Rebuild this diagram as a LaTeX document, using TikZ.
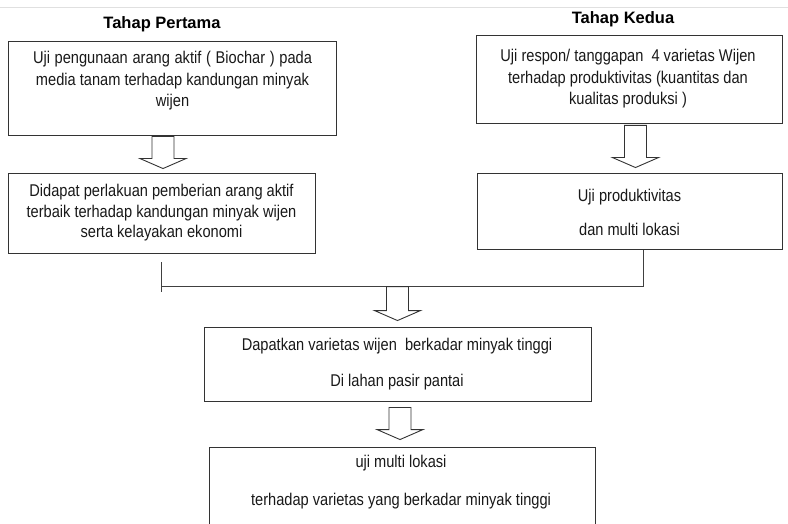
\documentclass[tikz,border=0pt]{standalone}
\usepackage{fontspec}
\setmainfont{Liberation Sans}
\newfontfamily\bodyfont[FakeStretch=0.86]{Liberation Sans}
\usetikzlibrary{calc}
\tikzset{
  box/.style={draw=black!80, line width=0.9pt, fill=white, inner sep=0pt},
  txt/.style={align=center, inner sep=0pt, font=\bodyfont\fontsize{17}{21.5}\selectfont, text=black!90},
  ttl/.style={inner sep=0pt, font=\bfseries\fontsize{16.5}{19}\selectfont},
  barrow/.style={draw=black!80, line width=0.9pt, fill=white, line join=miter},
  link/.style={draw=black!75, line width=0.9pt}
}
\newcommand\blockarrow[2]{%
  \path[barrow] let \p1=(#1), \p2=(#2) in
    (\x1-11pt,\y1) -- (\x1+11pt,\y1) -- (\x1+11pt,\y2+10pt) -- (\x1+23pt,\y2+10pt)
    -- (\x1,\y2) -- (\x1-23pt,\y2+10pt) -- (\x1-11pt,\y2+10pt) -- cycle;}
\begin{document}
\begin{tikzpicture}[x=1pt,y=-1pt]
\clip (0,0) rectangle (788,524);
\fill[white] (0,0) rectangle (788,524);
\draw[black!12, line width=1pt] (0,8) -- (788,8);

\node[ttl] (h1) at (162,24) {Tahap Pertama};
\node[ttl] (h2) at (623,19) {Tahap Kedua};

\node[box, minimum width=328pt, minimum height=94pt] (b1) at (172,88) {};
\node[txt] (t1) at (172.5,81) {\makebox[279pt][s]{Uji pengunaan arang aktif ( Biochar ) pada}\\
  \makebox[273pt][s]{media tanam terhadap kandungan minyak}\\ wijen};

\node[box, minimum width=307pt, minimum height=80pt] (b2) at (161.5,213) {};
\node[txt, font=\bodyfont\fontsize{17}{20.5}\selectfont] (t2) at (161.5,213) {Didapat perlakuan pemberian arang aktif\\
  terbaik terhadap kandungan minyak wijen\\ serta kelayakan ekonomi};

\node[box, minimum width=306pt, minimum height=88pt] (b3) at (629,79) {};
\node[txt] (t3) at (628,79) {Uji respon/ tanggapan\ \ 4 varietas Wijen\\
  terhadap produktivitas (kuantitas dan\\ kualitas produksi )};

\node[box, minimum width=305pt, minimum height=76pt] (b4) at (629.5,211) {};
\node[txt] (t4) at (629.5,212.5) {Uji produktivitas\\[13pt] dan multi lokasi};

\node[box, minimum width=387pt, minimum height=74pt] (b5) at (397.5,364) {};
\node[txt] (t5) at (397,364) {Dapatkan varietas wijen\ \ berkadar minyak tinggi\\[14pt] Di lahan pasir pantai};

\node[box, minimum width=386pt, minimum height=93pt] (b6) at (402,493.5) {};
\node[txt] (t6) at (401,482) {uji multi lokasi\\[16pt] terhadap varietas yang berkadar minyak tinggi};

% block arrows
\coordinate (a1t) at ($(b1.south)+(-9,1)$);
\coordinate (a1b) at ($(b2.north)+(0,-4)$);
\blockarrow{a1t}{a1b}
\coordinate (a2t) at ($(b3.south)+(6.5,2)$);
\coordinate (a2b) at ($(b4.north)+(0,-5)$);
\blockarrow{a2t}{a2b}

% joining bracket
\coordinate (jl) at ($(b2.south)+(0,9)$);
\coordinate (jr) at ($(b4.south)+(13.5,1)$);
\draw[link] (jl) -- ++(0,30);
\draw[link] (jr) -- ++(0,37);
\draw[link] ($(jl)+(0,24)$) coordinate (jh) -- (jr |- jh);

\coordinate (a3t) at ($(b5.north)+(0,-40)$);
\coordinate (a3b) at ($(b5.north)+(0,-6)$);
\blockarrow{a3t}{a3b}
\coordinate (a4t) at ($(b5.south)+(2.5,6)$);
\coordinate (a4b) at ($(b6.north)+(0,-7)$);
\blockarrow{a4t}{a4b}
\end{tikzpicture}
\end{document}
